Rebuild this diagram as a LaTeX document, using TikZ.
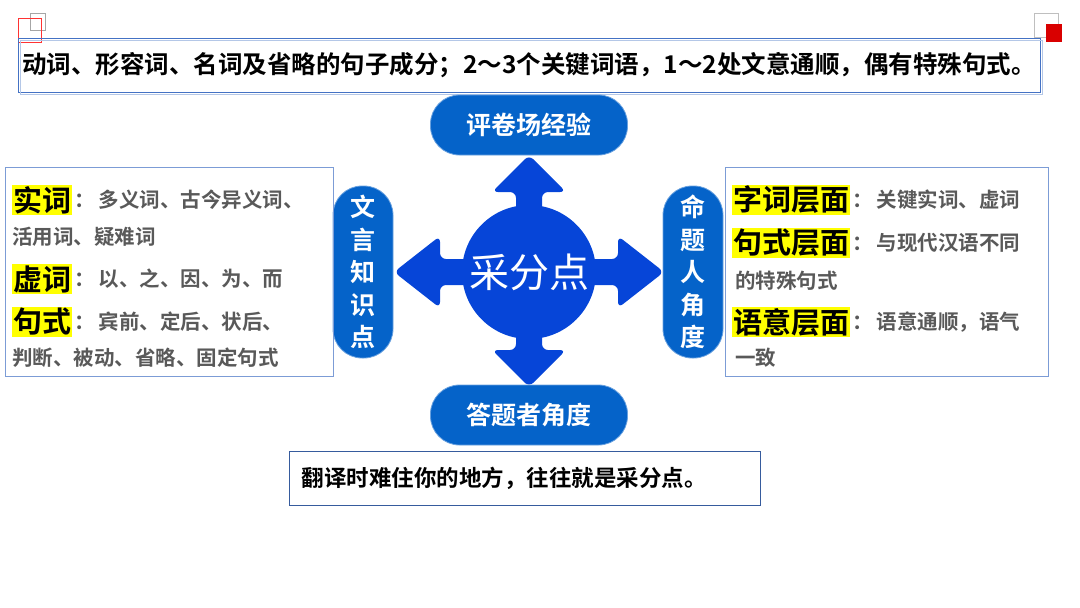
\documentclass[tikz,border=0pt]{standalone}
\usepackage{fontspec}
\setmainfont{Noto Sans CJK SC}
\newfontfamily\cjkb{Noto Sans CJK SC Bold}
\definecolor{pillc}{HTML}{0563C9}
\definecolor{arrc}{HTML}{0645D8}
\definecolor{boxb}{HTML}{4472C4}
\definecolor{txg}{HTML}{595959}
\definecolor{hl}{HTML}{FFFF00}
\begin{document}
\begin{tikzpicture}[x=1pt,y=-1pt,
  pill/.style={fill=pillc,draw=pillc!60!white,line width=0.8pt},
  pilltext/.style={text=white,font=\cjkb\fontsize{25}{27}\selectfont},
  frame/.style={draw=boxb,line width=1pt},
  sm/.style={anchor=west,text=txg,font=\cjkb\fontsize{20.5}{23}\selectfont,inner sep=0pt},
  big/.style={anchor=west,fill=hl,text=black,font=\cjkb\fontsize{29}{31}\selectfont,inner sep=1pt},
  arr/.style={fill=arrc,rounded corners=6pt}]
\useasboundingbox (0,0) rectangle (1080,608);
% decorations
\draw[gray!70,line width=0.8pt] (30,13) rectangle (45,30);
\draw[red!80,line width=0.8pt] (18,18) rectangle (41,42);
\draw[gray!50,line width=0.8pt] (1034,13) rectangle (1058,37);
\fill[red!85!black] (1046,24) rectangle (1062,42);
% top box
\node[frame,minimum width=1022,minimum height=54,inner sep=0pt] (top) at (529,65) {};
\draw[boxb!40,line width=0.6pt] (20,40) rectangle (1042,94);
\node[font=\cjkb\fontsize{24.5}{26}\selectfont] (toptext) at (top.center) {动词、形容词、名词及省略的句子成分；2～3个关键词语，1～2处文意通顺，偶有特殊句式。};
% arrows
\fill[arr] (516,230) -- (516,192) -- (492,192) -- (529,155) -- (566,192) -- (542,192) -- (542,230) -- cycle;
\fill[arr] (516,310) -- (516,350) -- (492,350) -- (529,387) -- (566,350) -- (542,350) -- (542,310) -- cycle;
\fill[arr] (490,259) -- (440,259) -- (440,236) -- (394,272) -- (440,308) -- (440,285) -- (490,285) -- cycle;
\fill[arr] (568,259) -- (618,259) -- (618,236) -- (664,272) -- (618,308) -- (618,285) -- (568,285) -- cycle;
\node[circle,fill=arrc,minimum size=134,inner sep=0pt,text=white,font=\fontsize{40}{42}\selectfont] (c) at (529,272) {采分点};
% pills
\node[pill,rounded corners=29pt,minimum width=197,minimum height=60,pilltext] (p1) at (529,125) {评卷场经验};
\node[pill,rounded corners=29pt,minimum width=197,minimum height=60,pilltext] (p2) at (529,415) {答题者角度};
\node[pill,rounded corners=29pt,minimum width=60,minimum height=172,pilltext,align=center,font=\cjkb\fontsize{25}{32.5}\selectfont] (p3) at (363,272) {文\\言\\知\\识\\点};
\node[pill,rounded corners=29pt,minimum width=60,minimum height=172,pilltext,align=center,font=\cjkb\fontsize{25}{32.5}\selectfont] (p4) at (693,272) {命\\题\\人\\角\\度};
% left box
\node[draw=boxb!70,line width=0.8pt,minimum width=328,minimum height=209,inner sep=0pt] (lb) at (169,271.5) {};
\node[big] (l1) at (12,200) {实词};
\node[sm] at ([xshift=2pt]l1.east) {：\,多义词、古今异义词、};
\node[sm] at (12,237) {活用词、疑难词};
\node[big] (l3) at (12,279) {虚词};
\node[sm] at ([xshift=2pt]l3.east) {：\,以、之、因、为、而};
\node[big] (l4) at (12,322) {句式};
\node[sm] at ([xshift=2pt]l4.east) {：\,宾前、定后、状后、};
\node[sm] at (12,358) {判断、被动、省略、固定句式};
% right box
\node[draw=boxb!70,line width=0.8pt,minimum width=323,minimum height=209,inner sep=0pt] (rb) at (886.5,271.5) {};
\node[big] (r1) at (732,200) {字词层面};
\node[sm] at ([xshift=2pt]r1.east) {：\,关键实词、虚词};
\node[big] (r2) at (732,243) {句式层面};
\node[sm] at ([xshift=2pt]r2.east) {：\,与现代汉语不同};
\node[sm] at (735,281) {的特殊句式};
\node[big] (r4) at (732,322) {语意层面};
\node[sm] at ([xshift=2pt]r4.east) {：\,语意通顺，语气};
\node[sm] at (735,358) {一致};
% bottom box
\node[frame,draw=boxb!80!black,minimum width=471,minimum height=54,inner sep=0pt] (bb) at (524.5,478) {};
\node[anchor=west,font=\cjkb\fontsize{22.5}{24}\selectfont] (bt) at (298,478) {翻译时难住你的地方，往往就是采分点。};
\end{tikzpicture}
\end{document}
